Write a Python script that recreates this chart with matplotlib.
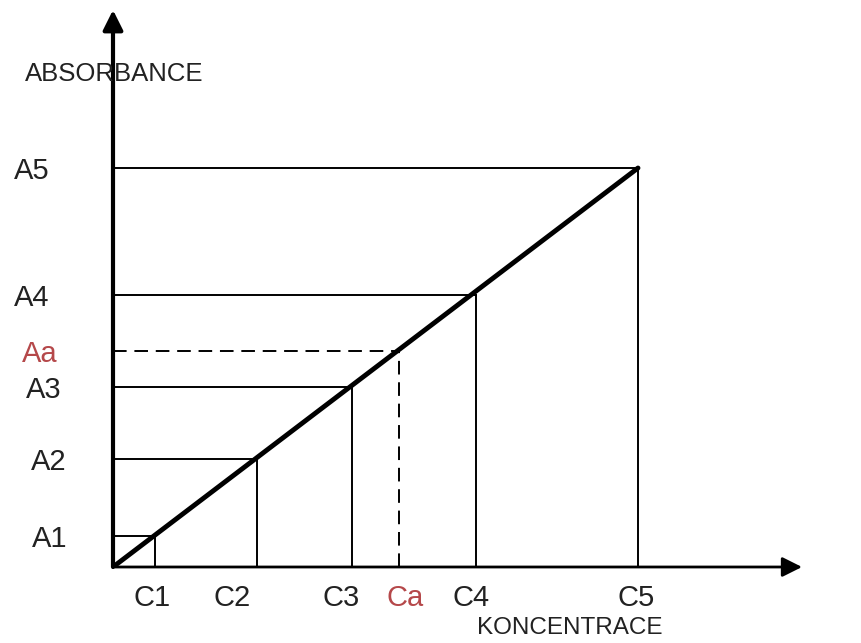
import numpy as np
import matplotlib
matplotlib.use('Agg')
import matplotlib.pyplot as plt
from matplotlib.transforms import ScaledTranslation

# calibration standards (concentration, absorbance)
conc = [0.42, 1.44, 2.39, 3.63, 5.25]
absb = [0.31, 1.08, 1.80, 2.72, 3.99]
conc_labels = ['C1', 'C2', 'C3', 'C4', 'C5']
abs_labels = ['A1', 'A2', 'A3', 'A4', 'A5']
# unknown sample
conc_a = 2.86
abs_a = 2.16

plt.rcParams['font.family'] = ['Liberation Sans', 'DejaVu Sans']

fig = plt.figure(figsize=(8.62, 6.43), dpi=100)
ax = fig.add_axes([113/862, 76/643, (802-113)/862, (567-10)/643])
ax.set_xlim(0, 6.89)
ax.set_ylim(0, 5.57)
for s in ax.spines.values():
    s.set_visible(False)

# axes with arrows
ax.annotate('', xy=(1, 0), xytext=(0, 0), xycoords='axes fraction',
            arrowprops=dict(arrowstyle='-|>', lw=2, color='black', mutation_scale=30,
                            shrinkA=0, shrinkB=0))
ax.annotate('', xy=(0, 1), xytext=(0, 0), xycoords='axes fraction',
            arrowprops=dict(arrowstyle='-|>', lw=3, color='black', mutation_scale=30,
                            shrinkA=0, shrinkB=0))

# guide lines for standards
for c, a in zip(conc, absb):
    ax.plot([0, c], [a, a], color='black', lw=1.4)
    ax.plot([c, c], [0, a], color='black', lw=1.4)

# unknown sample guides
ax.plot([0, conc_a], [abs_a, abs_a], color='black', lw=1.4, ls=(0, (7, 4)))
ax.plot([conc_a, conc_a], [0, abs_a], color='black', lw=1.4, ls=(0, (7, 4)))

# calibration line
ax.plot([0, conc[-1]], [0, absb[-1]], color='black', lw=3.5, solid_capstyle='round')

red = '#b5484a'
ax.set_xticks(conc + [conc_a], conc_labels + ['Ca'])
ax.set_yticks(absb + [abs_a], abs_labels + ['Aa'])
ax.tick_params(axis='x', length=0, pad=12, labelsize=21, labelcolor='#222222')
ax.tick_params(axis='y', length=0, pad=46, labelsize=21, labelcolor='#222222')
ax.get_xticklabels()[-1].set_color(red)
ax.get_yticklabels()[-1].set_color(red)

# hand-drawn label placement: small sideways shifts (px)
xshift = [-3, -25, -11, -5, -2, 6]
for lab, dx in zip(ax.get_xticklabels(), xshift):
    lab.set_transform(lab.get_transform() + ScaledTranslation(dx / 100, 0, fig.dpi_scale_trans))
yshift = [18, 17, 12, 0, 0, 8]
for lab, dx in zip(ax.get_yticklabels(), yshift):
    lab.set_transform(lab.get_transform() + ScaledTranslation(dx / 100, 0, fig.dpi_scale_trans))

fig.text(25/862, 1 - 74/643, 'ABSORBANCE', fontsize=18.5, color='#222222', va='center', ha='left')
fig.text(570/862, 1 - 628/643, 'KONCENTRACE', fontsize=17.5, color='#222222', va='center', ha='center')

fig.savefig('out.png', dpi=100)
